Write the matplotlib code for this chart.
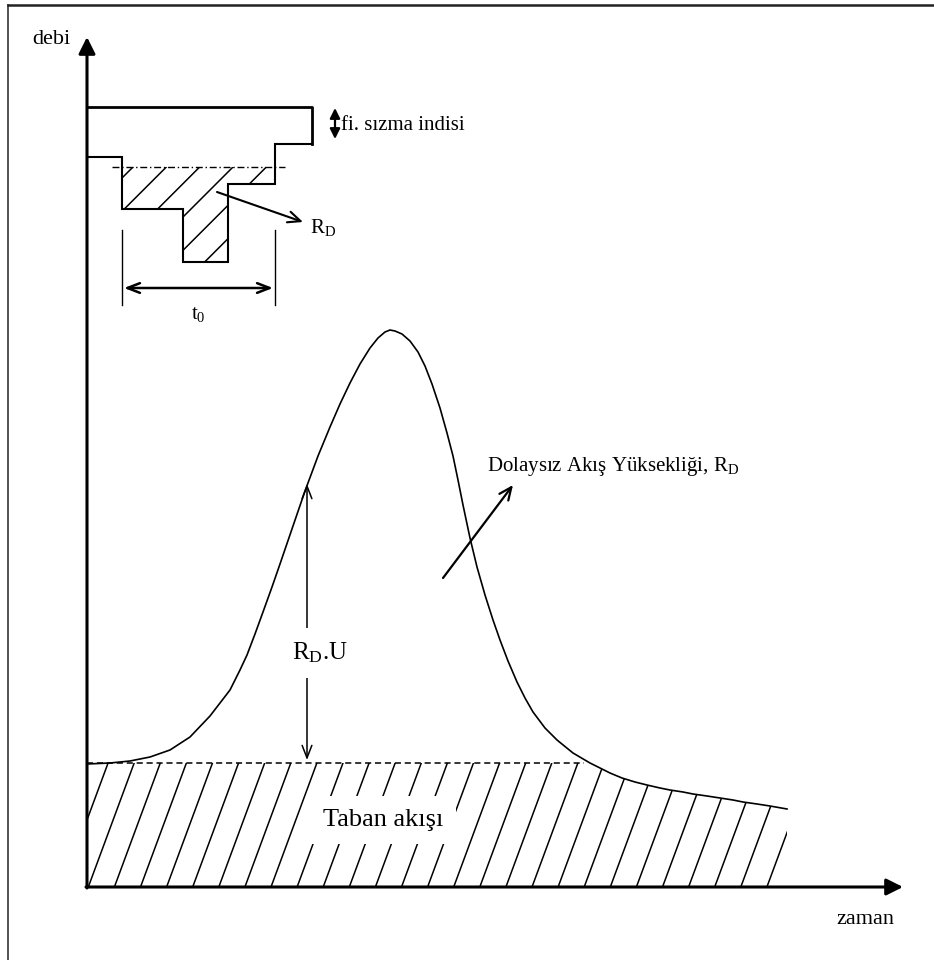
import numpy as np
import matplotlib
matplotlib.use("Agg")
import matplotlib.pyplot as plt
from matplotlib.patches import Polygon
from matplotlib.lines import Line2D

plt.rcParams['font.family'] = ['Liberation Serif', 'DejaVu Serif']
plt.rcParams['mathtext.fontset'] = 'custom'
plt.rcParams['mathtext.rm'] = 'Liberation Serif'
plt.rcParams['mathtext.it'] = 'Liberation Serif:italic'
plt.rcParams['hatch.linewidth'] = 1.1

# hydrograph (zaman, debi)
zaman = [0, 23, 43, 63, 83, 103, 123, 143, 153, 160, 168, 176, 185, 193, 206, 218,
         231, 243, 253, 263, 273, 283, 291, 298, 303, 308, 315, 323, 331, 338, 345,
         353, 360, 366, 371, 376, 383, 390, 398, 406, 413, 421, 430, 438, 446, 458,
         470, 486, 503, 513, 523, 535, 548, 560, 573, 583, 596, 606, 620, 633, 646,
         656, 670, 683, 700]
debi = [123, 124, 126, 130, 137, 150, 171, 197, 217, 232, 253, 275, 300, 323, 361, 396,
        431, 460, 483, 504, 523, 539, 549, 555, 557, 556, 553, 546, 535, 521, 503,
        479, 454, 431, 407, 382, 349, 320, 292, 267, 247, 226, 205, 189, 175, 159,
        147, 134, 124, 119, 114, 109, 105, 102, 99, 97, 95, 93, 91, 89, 87,
        85, 83, 81, 78]
taban = 124          # base flow level
taban_end = 497      # end of dashed base flow line

# hyetograph (rain bars hanging from the top)
yagis_kenar = [0, 35, 96, 141, 188, 225]
yagis_alt = [730, 678, 625, 703, 743]
yagis_ust = 780
fi_indis = 720
fi_bas, fi_son = 25, 198

fig = plt.figure(figsize=(9.34, 9.6), dpi=100)
ax = fig.add_axes([0, 0, 1, 1])
ax.set_xlim(-87, 847)
ax.set_ylim(-73, 887)
ax.axis('off')

# outer frame (left and top edges only)
fig.add_artist(Line2D([8 / 934, 8 / 934], [0, 1 - 5 / 960], color='#444', lw=1.3))
fig.add_artist(Line2D([8 / 934, 1], [1 - 5 / 960, 1 - 5 / 960], color='#222', lw=1.8))

# axes arrows
ax.annotate('', xy=(0, 850), xytext=(0, -1),
            arrowprops=dict(arrowstyle='-|>,head_length=1.0,head_width=0.5', lw=2.2, color='k',
                            shrinkA=0, shrinkB=0))
ax.annotate('', xy=(816, 0), xytext=(-1, 0),
            arrowprops=dict(arrowstyle='-|>,head_length=1.0,head_width=0.5', lw=2.2, color='k',
                            shrinkA=0, shrinkB=0))
ax.text(-17, 847, 'debi', fontsize=16, ha='right', va='center')
ax.text(778, -33, 'zaman', fontsize=16, ha='center', va='center')

# hydrograph curve
ax.plot(zaman, debi, color='k', lw=1.2, solid_joinstyle='round')
ax.plot([0, taban_end], [taban, taban], color='k', lw=1.1, ls=(0, (4, 2.5)))

# base flow hatched area (steep hatch lines clipped to area)
t = np.array(zaman)
q = np.minimum(np.array(debi), taban)
verts = [(0, 0)] + list(zip(t, q)) + [(t[-1], 0)]
alan = Polygon(verts, closed=True, facecolor='none', edgecolor='none')
ax.add_patch(alan)
for b in np.arange(-77, 720, 26.1):
    ln, = ax.plot([b, b + 0.37 * 140], [0, 140], color='k', lw=1.1)
    ln.set_clip_path(alan)
ax.text(296, 67, 'Taban akışı', fontsize=19, ha='center', va='center',
        bbox=dict(facecolor='white', edgecolor='none', boxstyle='square,pad=0.5'))

# R_D.U arrow
ax.annotate('', xy=(220, 403), xytext=(220, 127),
            arrowprops=dict(arrowstyle='<->,head_length=0.9,head_width=0.35', lw=1.1, color='k',
                            shrinkA=0, shrinkB=0))
ax.text(233, 234, r'R$_{\mathrm{D}}$.U', fontsize=18, ha='center', va='center',
        bbox=dict(facecolor='white', edgecolor='none', boxstyle='square,pad=0.5'))

# direct runoff label
ax.annotate('', xy=(426, 402), xytext=(356, 309),
            arrowprops=dict(arrowstyle='->,head_length=0.9,head_width=0.4', lw=1.6, color='k',
                            shrinkA=0, shrinkB=0))
ax.text(400, 420, r'Dolaysız Akış Yüksekliği, R$_{\mathrm{D}}$', fontsize=15,
        ha='left', va='center')

# hyetograph
for i in range(len(yagis_alt)):
    if yagis_alt[i] < fi_indis:
        ax.fill_between(yagis_kenar[i:i + 2], yagis_alt[i], fi_indis, facecolor='none',
                        edgecolor='k', hatch='/', lw=0)
ax.stairs(yagis_alt, yagis_kenar, baseline=None, color='k', lw=1.5)
ax.plot([0, yagis_kenar[-1], yagis_kenar[-1]], [yagis_ust, yagis_ust, yagis_alt[-1]],
        color='k', lw=2.0)
ax.plot([fi_bas, fi_son], [fi_indis, fi_indis], color='k', lw=1.0, ls=(0, (5, 2, 1, 2)))

# R_D arrow from excess rain
ax.annotate('', xy=(216, 665), xytext=(130, 695),
            arrowprops=dict(arrowstyle='->,head_length=0.9,head_width=0.4', lw=1.5, color='k',
                            shrinkA=0, shrinkB=0))
ax.text(223, 659, r'R$_{\mathrm{D}}$', fontsize=15, ha='left', va='center')

# t0 dimension
for x0 in (yagis_kenar[1], yagis_kenar[4]):
    ax.plot([x0, x0], [582, 657], color='k', lw=1.0)
ax.annotate('', xy=(yagis_kenar[4] - 2, 599), xytext=(yagis_kenar[1] + 2, 599),
            arrowprops=dict(arrowstyle='<->,head_length=0.9,head_width=0.35', lw=1.8, color='k',
                            shrinkA=0, shrinkB=0))
ax.text(111, 572, r't$_{0}$', fontsize=15, ha='center', va='center')

# infiltration index arrow
ax.annotate('', xy=(248, 779), xytext=(248, 748),
            arrowprops=dict(arrowstyle='<|-|>,head_length=0.6,head_width=0.3', lw=1.6, color='k',
                            shrinkA=0, shrinkB=0))
ax.text(254, 762, 'fi. sızma indisi', fontsize=15, ha='left', va='center')

fig.savefig('out.png', dpi=100, facecolor='white')
